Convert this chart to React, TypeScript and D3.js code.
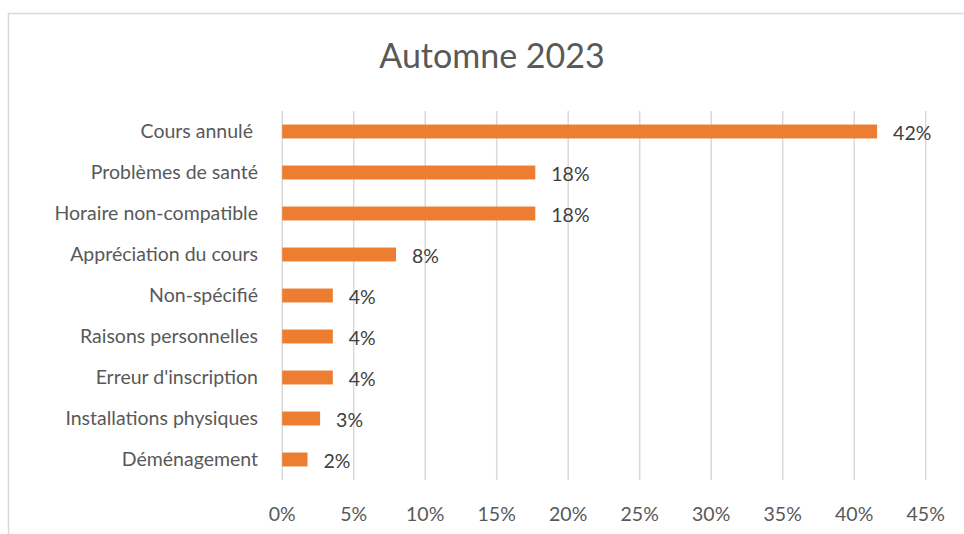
import React, { useEffect, useRef } from "react"
import * as d3 from "d3"

// values (percent of responses)
const categories = [
  "Cours annulé ",
  "Problèmes de santé",
  "Horaire non-compatible",
  "Appréciation du cours",
  "Non-spécifié",
  "Raisons personnelles",
  "Erreur d'inscription",
  "Installations physiques",
  "Déménagement",
]
const values = [41.6, 17.7, 17.7, 7.96, 3.54, 3.54, 3.54, 2.65, 1.77]
const labels = ["42%", "18%", "18%", "8%", "4%", "4%", "4%", "3%", "2%"]
const ticks = [0, 5, 10, 15, 20, 25, 30, 35, 40, 45]

const W = 964
const H = 534
const font = "Lato, 'Open Sans', sans-serif"

export default function App() {
  const ref = useRef<SVGSVGElement>(null)

  useEffect(() => {
    const svg = d3.select(ref.current)
    svg.selectAll("*").remove()

    // chart frame (cut off at right/bottom)
    svg.append("rect")
      .attr("x", 8.5).attr("y", 13.5)
      .attr("width", W + 20).attr("height", H + 20)
      .attr("fill", "#fff").attr("stroke", "#d9d9d9").attr("stroke-width", 1.5)

    svg.append("text")
      .attr("x", 492).attr("y", 68)
      .attr("text-anchor", "middle")
      .attr("font-family", font).attr("font-size", 34)
      .attr("fill", "#595959")
      .text("Automne 2023")

    const x = d3.scaleLinear().domain([0, 45]).range([282.2, 925.7])
    const y = d3.scaleBand().domain(categories).range([111, 480]).paddingInner(0.66).paddingOuter(0.33)

    svg.append("g").selectAll("line")
      .data(ticks)
      .join("line")
      .attr("x1", d => x(d)).attr("x2", d => x(d))
      .attr("y1", 111).attr("y2", 480)
      .attr("stroke", "#d9d9d9").attr("stroke-width", 1.5)

    svg.append("g").selectAll("text")
      .data(ticks)
      .join("text")
      .attr("x", d => x(d)).attr("y", 521)
      .attr("text-anchor", "middle")
      .attr("font-family", font).attr("font-size", 19.5)
      .attr("fill", "#595959")
      .text(d => d + "%")

    svg.append("g").selectAll("rect")
      .data(values)
      .join("rect")
      .attr("x", x(0))
      .attr("y", (d, i) => y(categories[i]))
      .attr("width", d => x(d) - x(0))
      .attr("height", y.bandwidth())
      .attr("fill", "#ed7d31")

    svg.append("g").selectAll("text")
      .data(categories)
      .join("text")
      .attr("x", 258)
      .attr("y", d => y(d) + y.bandwidth() / 2)
      .attr("dy", "0.35em")
      .attr("text-anchor", "end")
      .attr("font-family", font).attr("font-size", 19.5)
      .attr("fill", "#595959")
      .attr("style", "white-space: pre")
      .text(d => d)

    svg.append("g").selectAll("text")
      .data(values)
      .join("text")
      .attr("x", d => x(d) + 16)
      .attr("y", (d, i) => y(categories[i]) + y.bandwidth() / 2 + 2)
      .attr("dy", "0.35em")
      .attr("font-family", font).attr("font-size", 19.5)
      .attr("fill", "#404040")
      .text((d, i) => labels[i])
  }, [])

  return (
    <svg ref={ref} width={W} height={H}
      style={{ position: "absolute", left: 0, top: 0, background: "#fff" }} />
  )
}
